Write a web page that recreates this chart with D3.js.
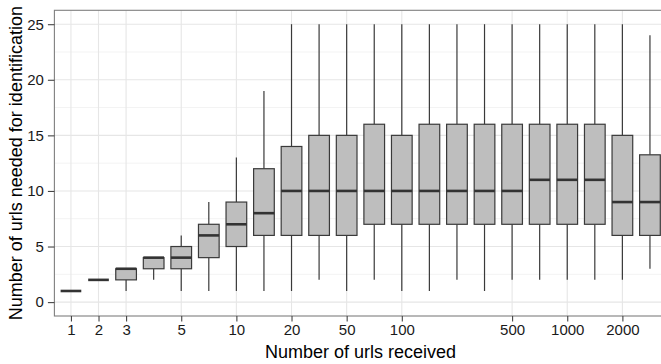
<!DOCTYPE html>
<html>
<head>
<meta charset="utf-8">
<script src="https://d3js.org/d3.v7.min.js"></script>
<style>
  body { margin: 0; background: #fff; }
  text { font-family: "Liberation Sans", Arial, Helvetica, sans-serif; }
</style>
</head>
<body>
<div id="chart"></div>
<script>

// one box per bin of "urls received"
var categories = ["1", "2", "3", "4", "5", "7", "10", "15", "20", "30", "50", "70",
                  "100", "150", "200", "300", "500", "700", "1000", "1500", "2000", "3000"];
var tickLabels = ["1", "2", "3", "5", "10", "20", "50", "100", "500", "1000", "2000"];

var whiskerLow  = [1, 2, 1, 2, 1, 1, 1, 1, 1, 2, 1, 2, 1, 1, 2, 1, 2, 2, 2, 2, 2, 3];
var q1          = [1, 2, 2, 3, 3, 4, 5, 6, 6, 6, 6, 7, 7, 7, 7, 7, 7, 7, 7, 7, 6, 6];
var median      = [1, 2, 3, 4, 4, 6, 7, 8, 10, 10, 10, 10, 10, 10, 10, 10, 10, 11, 11, 11, 9, 9];
var q3          = [1, 2, 3, 4, 5, 7, 9, 12, 14, 15, 15, 16, 15, 16, 16, 16, 16, 16, 16, 16, 15, 13.25];
var whiskerHigh = [1, 2, 3, 4, 6, 9, 13, 19, 25, 25, 25, 25, 25, 25, 25, 25, 25, 25, 25, 25, 25, 24];

var yTicks = [0, 5, 10, 15, 20, 25];
var yMinor = [2.5, 7.5, 12.5, 17.5, 22.5];

var svg_width = 661,
    svg_height = 364,
    margin = {top: 10.3, right: -5.5, bottom: 48, left: 54.4},
    width = svg_width - margin.left - margin.right,
    height = svg_height - margin.top - margin.bottom;

var svg = d3.select("#chart").append("svg")
    .attr("width", svg_width)
    .attr("height", svg_height);

var g = svg.append("g")
    .attr("transform", "translate(" + margin.left + "," + margin.top + ")");

// ggplot style discrete axis, 0.6 step of room at each end
var x = d3.scalePoint()
    .domain(categories)
    .range([0, width])
    .padding(0.6);

var y = d3.scaleLinear()
    .domain([-1.25, 26.25])
    .range([height, 0]);

var boxW = x.step() * 0.75;

// grid
g.selectAll(".minor").data(yMinor).enter().append("line")
    .attr("x1", 0).attr("x2", width)
    .attr("y1", function(d) { return y(d); })
    .attr("y2", function(d) { return y(d); })
    .attr("stroke", "#f3f3f3").attr("stroke-width", 1);

g.selectAll(".gridy").data(yTicks).enter().append("line")
    .attr("x1", 0).attr("x2", width)
    .attr("y1", function(d) { return y(d); })
    .attr("y2", function(d) { return y(d); })
    .attr("stroke", "#e6e6e6").attr("stroke-width", 1.1);

g.selectAll(".gridx").data(tickLabels).enter().append("line")
    .attr("x1", function(d) { return x(d); })
    .attr("x2", function(d) { return x(d); })
    .attr("y1", 0).attr("y2", height)
    .attr("stroke", "#e6e6e6").attr("stroke-width", 1.1);

// boxes
var boxes = g.selectAll(".box").data(categories).enter().append("g")
    .attr("class", "box");

boxes.append("line") // lower whisker
    .attr("x1", function(d) { return x(d); })
    .attr("x2", function(d) { return x(d); })
    .attr("y1", function(d, i) { return y(q1[i]); })
    .attr("y2", function(d, i) { return y(whiskerLow[i]); })
    .attr("stroke", "#3a3a3a").attr("stroke-width", 1.2);

boxes.append("line") // upper whisker
    .attr("x1", function(d) { return x(d); })
    .attr("x2", function(d) { return x(d); })
    .attr("y1", function(d, i) { return y(q3[i]); })
    .attr("y2", function(d, i) { return y(whiskerHigh[i]); })
    .attr("stroke", "#3a3a3a").attr("stroke-width", 1.2);

boxes.append("rect")
    .attr("x", function(d) { return x(d) - boxW / 2; })
    .attr("width", boxW)
    .attr("y", function(d, i) { return y(q3[i]); })
    .attr("height", function(d, i) { return y(q1[i]) - y(q3[i]); })
    .attr("fill", "#bebebe")
    .attr("stroke", "#3a3a3a").attr("stroke-width", 1.2);

boxes.append("line") // median
    .attr("x1", function(d) { return x(d) - boxW / 2; })
    .attr("x2", function(d) { return x(d) + boxW / 2; })
    .attr("y1", function(d, i) { return y(median[i]); })
    .attr("y2", function(d, i) { return y(median[i]); })
    .attr("stroke", "#333").attr("stroke-width", 2.6);

// panel border
g.append("rect")
    .attr("width", width).attr("height", height)
    .attr("fill", "none")
    .attr("stroke", "#7f7f7f").attr("stroke-width", 1.1);

// axes
var xAxis = g.append("g")
    .attr("transform", "translate(0," + height + ")")
    .call(d3.axisBottom(x).tickValues(tickLabels).tickSize(5.5).tickPadding(3));

var yAxis = g.append("g")
    .call(d3.axisLeft(y).tickValues(yTicks).tickSize(6.5).tickPadding(4));

[xAxis, yAxis].forEach(function(a) {
    a.select(".domain").remove();
    a.selectAll(".tick line").attr("stroke", "#444").attr("stroke-width", 1.1);
    a.selectAll(".tick text")
        .attr("fill", "#1a1a1a")
        .style("font-size", "15px")
        .style("font-family", "'Liberation Sans', Arial, sans-serif");
});

// titles
svg.append("text")
    .attr("text-anchor", "middle")
    .attr("transform", "translate(" + (margin.left + width / 2) + "," + 358 + ")")
    .style("font-size", "18px")
    .attr("fill", "#000")
    .text("Number of urls received");

svg.append("text")
    .attr("text-anchor", "middle")
    .attr("transform", "translate(22," + (margin.top + height / 2) + ")rotate(-90)")
    .style("font-size", "18px")
    .attr("fill", "#000")
    .text("Number of urls needed for identification");

</script>
</body>
</html>
